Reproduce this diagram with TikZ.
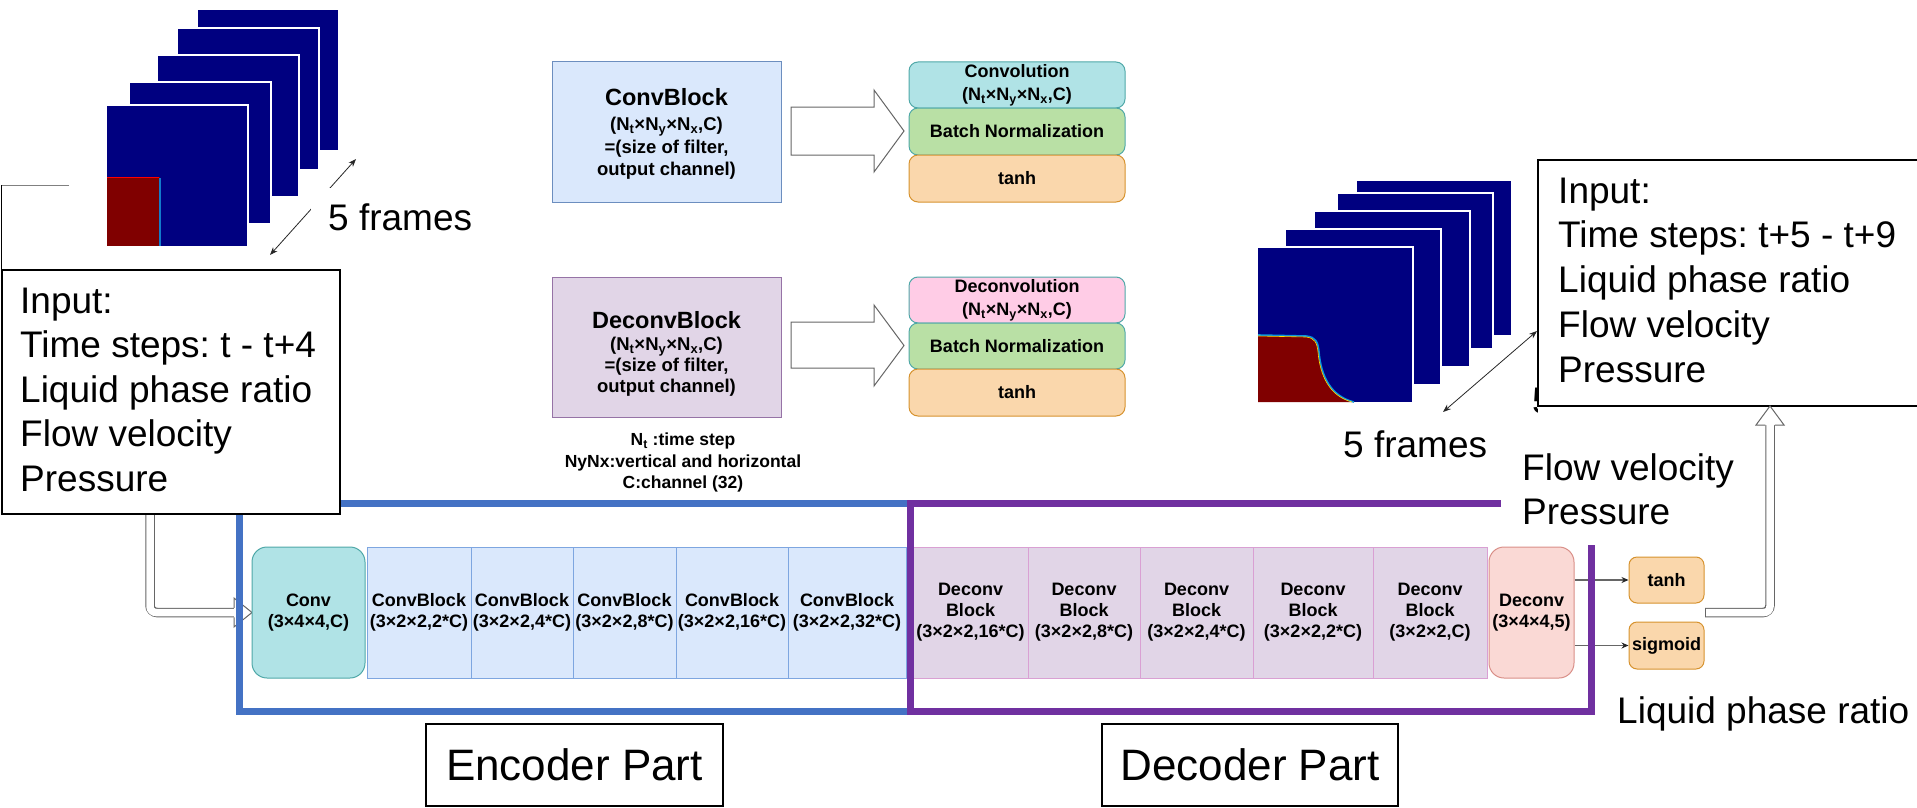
\documentclass[tikz,border=0pt]{standalone}
\usepackage{fontspec}
\setmainfont{Liberation Sans}
\usetikzlibrary{arrows.meta}
\frenchspacing

\definecolor{navyc}{HTML}{000080}
\definecolor{liquidred}{HTML}{800000}
\definecolor{encblue}{HTML}{4472C4}
\definecolor{decpurple}{HTML}{7030A0}
\definecolor{cbfill}{HTML}{DAE8FC}
\definecolor{cbdraw}{HTML}{6C8EBF}
\definecolor{cbcell}{HTML}{7EA6E0}
\definecolor{dbfill}{HTML}{E1D5E7}
\definecolor{dbdraw}{HTML}{9673A6}
\definecolor{dbcell}{HTML}{D9A0D3}
\definecolor{convfill}{HTML}{B0E3E6}
\definecolor{tealdraw}{HTML}{4FA8A8}
\definecolor{bnfill}{HTML}{B9E0A5}
\definecolor{pinkfill}{HTML}{FFCCE6}
\definecolor{actfill}{HTML}{FAD7AC}
\definecolor{actdraw}{HTML}{D6922E}
\definecolor{outfill}{HTML}{FAD9D5}
\definecolor{outdraw}{HTML}{D98F88}
\definecolor{arrowgray}{HTML}{666666}

\begin{document}
\begin{tikzpicture}[x=1pt, y=-1pt,
  bigtext/.style={font=\fontsize{37}{44}\selectfont, inner sep=0pt, anchor=base west},
  lbl/.style={font=\bfseries\fontsize{18}{21}\selectfont, align=center, inner sep=1pt, text=black},
  simframe/.style={fill=navyc, draw=white, line width=2pt},
  hollow/.style={draw=arrowgray, line width=1pt, fill=white},
  twohead/.style={draw=black!85, line width=0.8pt, {Stealth[length=8pt,width=6pt]}-{Stealth[length=8pt,width=6pt]}},
  onehead/.style={draw=arrowgray, line width=1.2pt, -{Stealth[length=7pt,width=6pt,color=black!85]}},
  cellcb/.style={lbl, fill=cbfill, draw=cbcell, line width=1pt, minimum height=131pt},
  celldb/.style={lbl, fill=dbfill, draw=dbcell, line width=1pt, minimum height=131pt},
  stackbox/.style={lbl, rounded corners=9pt, line width=1pt, minimum width=216pt, font=\bfseries\fontsize{18}{23}\selectfont},
  actbox/.style={lbl, rounded corners=8pt, fill=actfill, draw=actdraw, line width=1pt, minimum width=75pt},
  legendbox/.style={line width=1pt, minimum width=229pt, minimum height=140pt},
  legtitle/.style={font=\bfseries\fontsize{23.5}{27}\selectfont, anchor=base, inner sep=0pt},
  partbox/.style={draw=black, line width=2pt, minimum height=82pt, inner sep=0pt, font=\fontsize{44}{50}\selectfont},
  inbox/.style={draw=black, line width=2pt, fill=white, anchor=north west, inner sep=0pt}
]
\useasboundingbox (0,0) rectangle (1917,808);

% edge of a box lying behind the input frames
\draw[gray, line width=1pt] (69,185) -- (1,185);
\draw[black, line width=1pt] (1,185) -- (1,269);

% ---- input frames (t .. t+4) ----
\foreach \x/\y in {197/9,177/28,157/55,129/82,106/105}
  \draw[simframe] (\x,\y) rectangle ++(142,142);
\fill[liquidred] (107,177) rectangle (160,246);
\draw[red, line width=1.2pt] (107,177.5) -- (159,177.5);
\draw[cyan!60!blue, line width=1.2pt] (160,178) -- (160,246);

\coordinate (fa1) at (270,255);
\coordinate (fa2) at (356,159);
\draw[twohead] (fa1) -- (fa2);
\node[bigtext, fill=white, inner xsep=17pt, inner ysep=15pt] (framesL) at (311,230) {5 frames};

% ---- output frames (t+5 .. t+9) ----
\foreach \x/\y in {1356/180,1337/193,1314/211,1285/229,1257/247}
  \draw[simframe] (\x,\y) rectangle ++(156,156);
\fill[liquidred] (1258,402) -- (1258,335) -- (1306,336)
  .. controls (1316,337) and (1318,342) .. (1319,352)
  .. controls (1321,375) and (1330,396) .. (1354,402) -- cycle;
\draw[cyan!80!blue, line width=1.6pt] (1258,335) -- (1306,336)
  .. controls (1316,337) and (1318,342) .. (1319,352)
  .. controls (1321,375) and (1330,396) .. (1354,402);
\draw[yellow!80!orange, line width=0.6pt] (1258,336) -- (1306,337)
  .. controls (1315,338) and (1317,343) .. (1318,352)
  .. controls (1320,375) and (1329,396) .. (1352,402);

\coordinate (fb1) at (1443,412);
\coordinate (fb2) at (1537,331);
\draw[twohead] (fb1) -- (fb2);
\node[bigtext] (framesR) at (1343,457) {5 frames};
\begin{scope}
  \clip (1528,380) rectangle (1537,416);
  \node[bigtext] (framesHidden) at (1532,413) {5};
\end{scope}

% ---- legend: ConvBlock ----
\node[legendbox, fill=cbfill, draw=cbdraw] (cbleg) at (666.5,132) {};
\node[legtitle] (cbtitle) at (666.5,106) {ConvBlock};
\node[lbl, anchor=north, inner sep=0pt, font=\bfseries\fontsize{18.5}{22.5}\selectfont] (cbsub) at (666.5,117)
  {(N\textsubscript{t}×N\textsubscript{y}×N\textsubscript{x},C)\\=(size of filter,\\output channel)};
\filldraw[hollow] (791,107) -- (874,107) -- (874,90) -- (904,131) -- (874,172) -- (874,155) -- (791,155) -- cycle;
\node[stackbox, fill=convfill, draw=tealdraw, minimum height=46pt] (lconv) at (1017,85)
  {Convolution\\(N\textsubscript{t}×N\textsubscript{y}×N\textsubscript{x},C)};
\node[stackbox, fill=bnfill, draw=tealdraw, minimum height=47pt] (lbn) at (1017,131.5) {Batch Normalization};
\node[stackbox, fill=actfill, draw=actdraw, minimum height=47pt] (ltanh) at (1017,178.5) {tanh};

% ---- legend: DeconvBlock ----
\node[legendbox, fill=dbfill, draw=dbdraw] (dbleg) at (666.5,347) {};
\node[legtitle] (dbtitle) at (666.5,328) {DeconvBlock};
\node[lbl, anchor=north, inner sep=0pt, font=\bfseries\fontsize{18.5}{21}\selectfont] (dbsub) at (666.5,337)
  {(N\textsubscript{t}×N\textsubscript{y}×N\textsubscript{x},C)\\=(size of filter,\\output channel)};
\filldraw[hollow] (791,322) -- (874,322) -- (874,305) -- (904,345.5) -- (874,386) -- (874,368) -- (791,368) -- cycle;
\node[stackbox, fill=pinkfill, draw=tealdraw, minimum height=46pt] (ldeconv) at (1017,300)
  {Deconvolution\\(N\textsubscript{t}×N\textsubscript{y}×N\textsubscript{x},C)};
\node[stackbox, fill=bnfill, draw=tealdraw, minimum height=46pt] (lbn2) at (1017,346) {Batch Normalization};
\node[stackbox, fill=actfill, draw=actdraw, minimum height=47pt] (ltanh2) at (1017,392.5) {tanh};

\node[lbl, anchor=north, inner sep=0pt, font=\bfseries\fontsize{17.5}{21.5}\selectfont] (notes) at (683,433)
  {N\textsubscript{t} :time step\\NyNx:vertical and horizontal\\C:channel (32)};

% ---- hollow arrow from the input description into the network ----
\coordinate (hl1) at (150,513);
\coordinate (hl2) at (234,612.5);
\draw[arrowgray, line width=9.5pt, rounded corners=7pt] (hl1) |- (hl2);
\draw[white, line width=7.5pt, rounded corners=6pt] ([yshift=1pt]hl1) |- ([xshift=1pt]hl2);
\fill[white] (234,598) -- (252,612.5) -- (234,627) -- cycle;
\draw[arrowgray, line width=1pt] (234,607.75) -- (234,598) -- (252,612.5) -- (234,627) -- (234,617.25);

% ---- encoder row ----
\node[lbl, rounded corners=15pt, fill=convfill, draw=tealdraw, line width=1pt, minimum width=113pt, minimum height=131pt] (conv) at (308.5,612.5) {Conv\\(3×4×4,C)};
\node[cellcb, minimum width=104pt] (cb1) at (419,612.5) {ConvBlock\\(3×2×2,2*C)};
\node[cellcb, minimum width=102pt] (cb2) at (522,612.5) {ConvBlock\\(3×2×2,4*C)};
\node[cellcb, minimum width=103pt] (cb3) at (624.5,612.5) {ConvBlock\\(3×2×2,8*C)};
\node[cellcb, minimum width=112pt] (cb4) at (732,612.5) {ConvBlock\\(3×2×2,16*C)};
\node[cellcb, minimum width=118pt] (cb5) at (847,612.5) {ConvBlock\\(3×2×2,32*C)};

% ---- decoder row ----
\node[celldb, minimum width=115pt] (db1) at (970.5,612.5) {Deconv\\Block\\(3×2×2,16*C)};
\node[celldb, minimum width=112pt] (db2) at (1084,612.5) {Deconv\\Block\\(3×2×2,8*C)};
\node[celldb, minimum width=113pt] (db3) at (1196.5,612.5) {Deconv\\Block\\(3×2×2,4*C)};
\node[celldb, minimum width=120pt] (db4) at (1313,612.5) {Deconv\\Block\\(3×2×2,2*C)};
\node[celldb, minimum width=114pt] (db5) at (1430,612.5) {Deconv\\Block\\(3×2×2,C)};
\node[lbl, rounded corners=15pt, fill=outfill, draw=outdraw, line width=1pt, minimum width=85pt, minimum height=131pt] (deconvF) at (1531.5,612.5) {Deconv\\(3×4×4,5)};

\node[actbox, minimum height=46pt] (tanh) at (1666.5,580) {tanh};
\node[actbox, minimum height=47pt] (sigm) at (1666.5,645.5) {sigmoid};
\draw[onehead] (deconvF.east |- tanh.west) -- (tanh.west);
\draw[onehead] (deconvF.east |- sigm.west) -- (sigm.west);

% ---- encoder / decoder frames ----
\draw[encblue, line width=7pt] (239.5,503.5) rectangle (910,711.5);
\draw[decpurple, line width=7pt] (910,503.5) rectangle (1591,711.5);

% ---- input description ----
\node[inbox, minimum width=338pt, minimum height=244pt] (inL) at (1,269) {};
\node[bigtext] (inL1) at (20,313) {Input:};
\node[bigtext] (inL2) at (20,357.5) {Time steps: t - t+4};
\node[bigtext] (inL3) at (20,402) {Liquid phase ratio};
\node[bigtext] (inL4) at (20,446.5) {Flow velocity};
\node[bigtext] (inL5) at (20,491) {Pressure};

% ---- output description ----
\node[inbox, minimum width=390pt, minimum height=246pt] (inR) at (1537,159) {};
\node[bigtext] (inR1) at (1558,203) {Input:};
\node[bigtext] (inR2) at (1558,247.75) {Time steps: t+5 - t+9};
\node[bigtext] (inR3) at (1558,292.5) {Liquid phase ratio};
\node[bigtext] (inR4) at (1558,337.25) {Flow velocity};
\node[bigtext] (inR5) at (1558,382) {Pressure};

% ---- output channel labels ----
\node[fill=white, anchor=north west, minimum width=249pt, minimum height=105pt, inner sep=0pt] (fvbg) at (1501,440) {};
\node[bigtext] (fv1) at (1522,480) {Flow velocity};
\node[bigtext] (fv2) at (1522,524) {Pressure};
\node[bigtext] (lpr) at (1617,723) {Liquid phase ratio};

% ---- hollow arrow from the activations up to the output description ----
\coordinate (hr1) at (1705,612.5);
\coordinate (hr2) at (1770,425);
\draw[arrowgray, line width=9.5pt, rounded corners=7pt] (hr1) -| (hr2);
\draw[white, line width=7.5pt, rounded corners=6pt] ([xshift=1pt]hr1) -| ([yshift=1pt]hr2);
\fill[white] (1756,425) -- (1770,406) -- (1784,425) -- cycle;
\draw[arrowgray, line width=1pt] (1765.25,425) -- (1756,425) -- (1770,406) -- (1784,425) -- (1774.75,425);

% ---- part labels ----
\node[partbox, minimum width=297pt] (encpart) at (574.5,765) {Encoder Part};
\node[partbox, minimum width=296pt] (decpart) at (1250,765) {Decoder Part};

\end{tikzpicture}
\end{document}
